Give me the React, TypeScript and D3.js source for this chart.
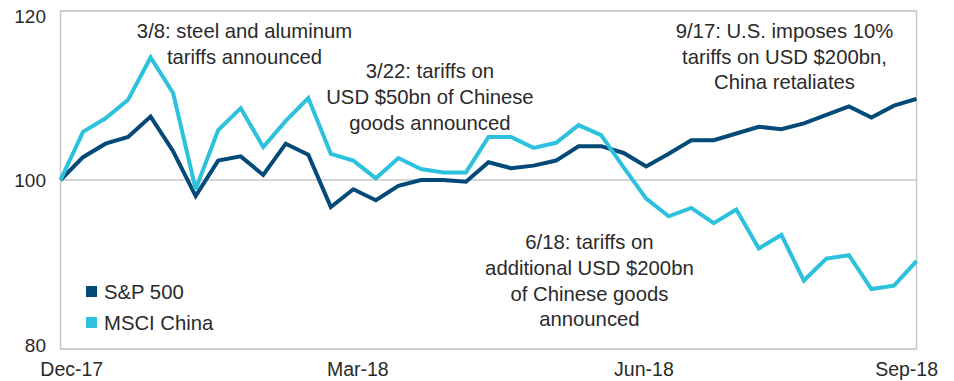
import React from "react";
import * as d3 from "d3";

const sp500: number[] = [
  100, 102.7, 104.3, 105.1, 107.5, 103.4, 98.1, 102.3, 102.8, 100.6,
  104.3, 103.0, 96.8, 98.9, 97.6, 99.3, 100.0, 100.0, 99.8, 102.1,
  101.4, 101.7, 102.3, 104.0, 104.0, 103.2, 101.6, 103.1, 104.7, 104.7,
  105.5, 106.3, 106.0, 106.7, 107.7, 108.7, 107.4, 108.8, 109.6,
];

const msciChina: number[] = [
  100, 105.7, 107.3, 109.5, 114.5, 110.3, 98.9, 105.9, 108.5, 103.9,
  107.0, 109.7, 103.1, 102.3, 100.2, 102.6, 101.3, 100.9, 100.9, 105.1,
  105.1, 103.8, 104.4, 106.5, 105.3, 101.5, 97.8, 95.7, 96.7, 94.9,
  96.5, 91.9, 93.5, 88.1, 90.7, 91.1, 87.1, 87.5, 90.4,
];

const xTickLabels: string[] = ["Dec-17", "Mar-18", "Jun-18", "Sep-18"];
const xTickPositions: number[] = [0.5, 13.2, 25.9, 37.56];
const yTicks: number[] = [80, 100, 120];

const seriesNames: string[] = ["S&P 500", "MSCI China"];
const seriesColors: string[] = ["#044a78", "#2cc1dc"];

const annotations: { lines: string[]; at: [number, number] }[] = [
  { lines: ["3/8: steel and aluminum", "tariffs announced"], at: [8.17, 116.8] },
  { lines: ["3/22: tariffs on", "USD $50bn of Chinese", "goods announced"], at: [16.4, 112.05] },
  { lines: ["9/17: U.S. imposes 10%", "tariffs on USD $200bn,", "China retaliates"], at: [32.14, 116.8] },
  { lines: ["6/18: tariffs on", "additional USD $200bn", "of Chinese goods", "announced"], at: [23.48, 91.8] },
];

const W = 954;
const H = 381;
const plot = { left: 60.5, right: 916.5, top: 11, bottom: 349 };
const font = "'Liberation Sans', Arial, Helvetica, sans-serif";
const textColor = "#2a2a2a";
const gridColor = "#c8c8c8";

export default function App() {
  const x = d3.scaleLinear().domain([0, sp500.length - 1]).range([plot.left, plot.right]);
  const y = d3.scaleLinear().domain([80, 120]).range([plot.bottom, plot.top]);
  const line = d3
    .line<number>()
    .x((_, i) => x(i))
    .y((d) => y(d));
  const series = [sp500, msciChina];

  return (
    <svg
      width={W}
      height={H}
      viewBox={`0 0 ${W} ${H}`}
      style={{ position: "absolute", left: 0, top: 0, background: "#fff" }}
      fontFamily={font}
    >
      <rect
        x={plot.left}
        y={plot.top}
        width={plot.right - plot.left}
        height={plot.bottom - plot.top}
        fill="none"
        stroke={gridColor}
        strokeWidth={1.5}
      />
      {yTicks.map((t) => (
        <line key={"g" + t} x1={plot.left} x2={plot.right} y1={y(t)} y2={y(t)} stroke={gridColor} strokeWidth={1.5} />
      ))}
      {yTicks.map((t) => (
        <text
          key={"y" + t}
          x={46}
          y={Math.min(Math.max(y(t), plot.top + 5), plot.bottom - 4)}
          dy="0.35em"
          textAnchor="end"
          fontSize={19}
          fill={textColor}
        >
          {t}
        </text>
      ))}
      {xTickLabels.map((lab, i) => (
        <text key={lab} x={x(xTickPositions[i])} y={376} textAnchor="middle" fontSize={19.5} fill={textColor}>
          {lab}
        </text>
      ))}
      {series.map((s, i) => (
        <path
          key={seriesNames[i]}
          d={line(s) || ""}
          fill="none"
          stroke={seriesColors[i]}
          strokeWidth={4}
          strokeLinejoin="miter"
          strokeMiterlimit={3}
        />
      ))}
      {annotations.map((a, k) => (
        <text key={k} textAnchor="middle" fontSize={20.3} fill={textColor}>
          {a.lines.map((l, j) => (
            <tspan key={j} x={x(a.at[0])} y={y(a.at[1]) + j * 25.7}>
              {l}
            </tspan>
          ))}
        </text>
      ))}
      {seriesNames.map((n, i) => (
        <g key={n} transform={`translate(86,${286 + i * 31})`}>
          <rect x={0} y={0} width={11} height={11} fill={seriesColors[i]} />
          <text x={18} y={12.5} fontSize={20.3} fill={textColor}>
            {n}
          </text>
        </g>
      ))}
    </svg>
  );
}
